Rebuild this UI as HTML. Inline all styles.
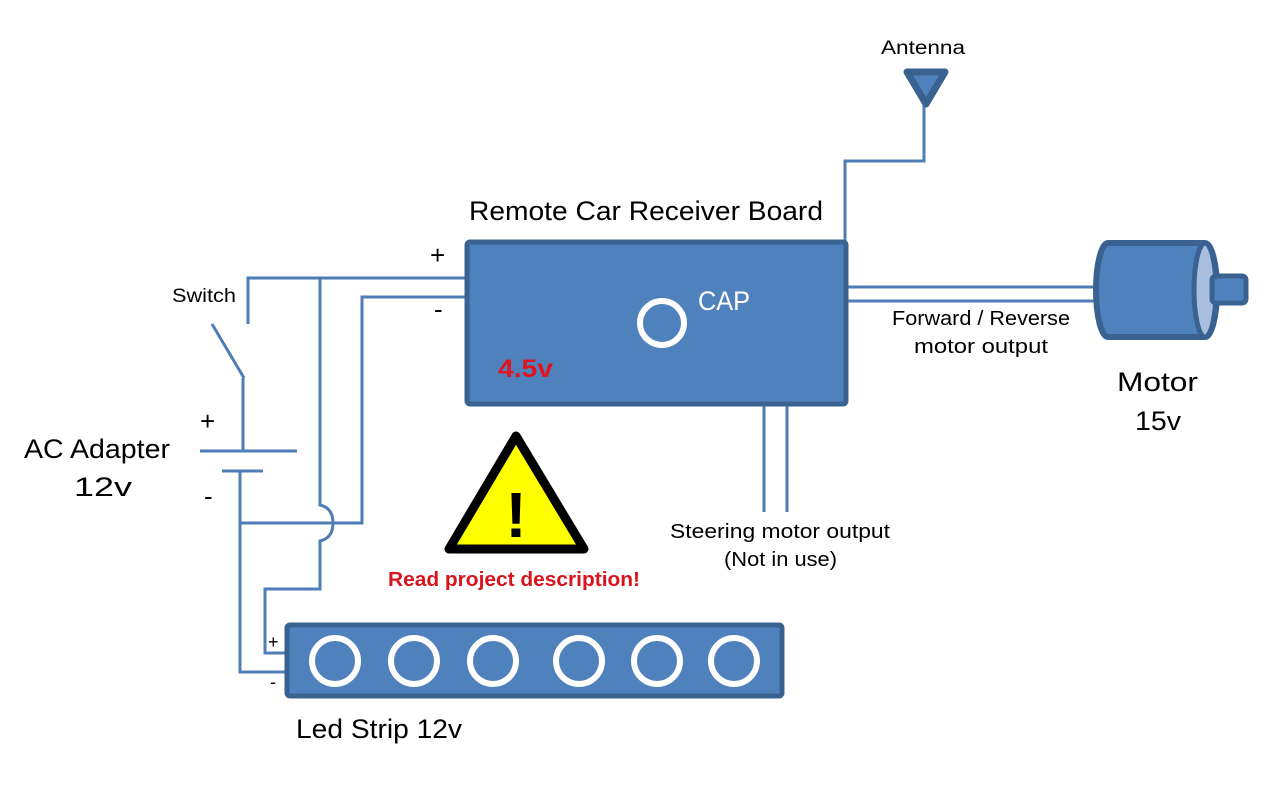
<!DOCTYPE html>
<html><head><style>
html,body{margin:0;padding:0;background:#fff;}
svg{display:block;}
text{font-family:"Liberation Sans",sans-serif;}
</style></head><body>
<svg width="1277" height="785" viewBox="0 0 1277 785" xmlns="http://www.w3.org/2000/svg">
<g fill="none" stroke="#4f7db5" stroke-width="3">
<polyline points="248,324 248,278 468,278"/>
<line x1="212" y1="324" x2="244" y2="378"/>
<polyline points="243,378 243,451"/>
<line x1="200" y1="451" x2="297" y2="451"/>
<line x1="222" y1="471" x2="263" y2="471"/>
<polyline points="240,471 240,672 290,672"/>
<polyline points="240,523 362,523 362,297 468,297"/>
<path d="M320,278 L320,505 Q333,508 333,523 Q333,538 320,541 L320,589 L265,589 L265,653 L290,653"/>
<polyline points="924,100 924,161 845,161 845,242"/>
<line x1="848" y1="287" x2="1095" y2="287"/>
<line x1="848" y1="301" x2="1095" y2="301"/>
<line x1="764" y1="404" x2="764" y2="512"/>
<line x1="787" y1="404" x2="787" y2="512"/>
</g>
<polygon points="907,72 945,72 926,104" fill="#4f81bd" stroke="#3a6291" stroke-width="7" stroke-linejoin="round"/>
<rect x="467" y="242" width="379" height="162" rx="3" fill="#4f81bd" stroke="#3a6291" stroke-width="5"/>
<circle cx="662" cy="323" r="22" fill="none" stroke="#fff" stroke-width="6"/>
<rect x="287" y="625" width="495" height="71" rx="3" fill="#4f81bd" stroke="#3a6291" stroke-width="5"/>
<g fill="none" stroke="#fff" stroke-width="6">
<circle cx="335" cy="661" r="23"/><circle cx="414" cy="661" r="23"/><circle cx="493" cy="661" r="23"/>
<circle cx="579" cy="661" r="23"/><circle cx="657" cy="661" r="23"/><circle cx="734" cy="661" r="23"/>
</g>
<path d="M1108,243 L1205,243 A12,47 0 0 1 1205,337 L1108,337 A12,47 0 0 1 1108,243 Z" fill="#4f81bd" stroke="#3a6291" stroke-width="6"/>
<ellipse cx="1205" cy="290" rx="11" ry="47" fill="#a9bfe0" stroke="#3a6291" stroke-width="5"/>
<rect x="1212" y="276" width="34" height="27" rx="4" fill="#4f81bd" stroke="#3a6291" stroke-width="5"/>
<polygon points="516,436 449,549 584,549" fill="#ffff00" stroke="#000" stroke-width="9" stroke-linejoin="round"/>
<text x="516" y="537" font-size="64" font-weight="bold" text-anchor="middle" fill="#000">!</text>
<g fill="#000" lengthAdjust="spacingAndGlyphs">
<text x="881" y="54" font-size="19" textLength="84" lengthAdjust="spacingAndGlyphs">Antenna</text>
<text x="469" y="220" font-size="27" textLength="354" lengthAdjust="spacingAndGlyphs">Remote Car Receiver Board</text>
<text x="430" y="264" font-size="26">+</text>
<text x="434" y="318" font-size="26">-</text>
<text x="698" y="310" font-size="27" fill="#fff" textLength="52" lengthAdjust="spacingAndGlyphs">CAP</text>
<text x="172" y="302" font-size="19" textLength="64" lengthAdjust="spacingAndGlyphs">Switch</text>
<text x="200" y="430" font-size="26">+</text>
<text x="204" y="505" font-size="26">-</text>
<text x="24" y="458" font-size="27" textLength="146" lengthAdjust="spacingAndGlyphs">AC Adapter</text>
<text x="74" y="496" font-size="27" textLength="58" lengthAdjust="spacingAndGlyphs">12v</text>
<text x="892" y="325" font-size="20" textLength="178" lengthAdjust="spacingAndGlyphs">Forward / Reverse</text>
<text x="914" y="353" font-size="20" textLength="134" lengthAdjust="spacingAndGlyphs">motor output</text>
<text x="1117" y="391" font-size="27" textLength="81" lengthAdjust="spacingAndGlyphs">Motor</text>
<text x="1135" y="430" font-size="27" textLength="46" lengthAdjust="spacingAndGlyphs">15v</text>
<text x="670" y="538" font-size="20" textLength="220" lengthAdjust="spacingAndGlyphs">Steering motor output</text>
<text x="724" y="566" font-size="20" textLength="113" lengthAdjust="spacingAndGlyphs">(Not in use)</text>
<text x="268" y="648" font-size="18">+</text>
<text x="270" y="688" font-size="18">-</text>
<text x="296" y="738" font-size="27" textLength="166" lengthAdjust="spacingAndGlyphs">Led Strip 12v</text>
</g>
<text x="498" y="377" font-size="25" font-weight="bold" fill="#e0141e" textLength="55" lengthAdjust="spacingAndGlyphs">4.5v</text>
<text x="388" y="586" font-size="20" font-weight="bold" fill="#d9141c" textLength="252" lengthAdjust="spacingAndGlyphs">Read project description!</text>
</svg>
</body></html>
